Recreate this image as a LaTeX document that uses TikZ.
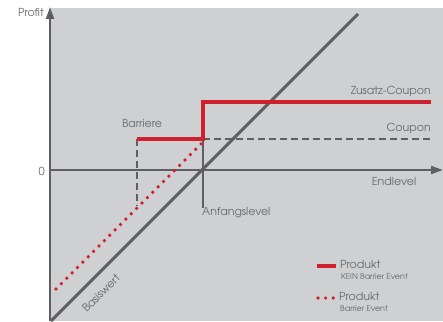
\documentclass[tikz,border=0pt]{standalone}
\usepackage{fontspec}
\setmainfont{texgyreadventor-regular.otf}
\usetikzlibrary{arrows.meta}
\definecolor{bggray}{RGB}{207,208,210}
\definecolor{axgray}{RGB}{95,95,97}
\definecolor{txtgray}{RGB}{105,105,107}
\definecolor{prodred}{RGB}{208,32,46}
\tikzset{
  axis/.style={draw=axgray, line width=2pt, -{Triangle[length=12pt,width=8pt]}},
  lbl/.style={text=txtgray, font=\fontsize{11}{12}\selectfont, inner sep=0pt},
  smalllbl/.style={text=txtgray, font=\fontsize{8}{9}\selectfont, inner sep=0pt},
  redline/.style={draw=prodred, line width=3.2pt},
  reddots/.style={draw=prodred, line width=3.6pt, line cap=round, dash pattern=on 0pt off 7.6pt},
  graydash/.style={draw=axgray, line width=2pt, dash pattern=on 7pt off 4pt},
  basis/.style={draw=axgray, line width=3pt},
  tickline/.style={draw=axgray, line width=2pt}
}
\begin{document}
\begin{tikzpicture}[x=1pt,y=-1pt]
\useasboundingbox (0,0) rectangle (443,321);
\fill[bggray] (50,8) rectangle (443,321);
% coordinates
\coordinate (ybot) at (50,321);
\coordinate (ytop) at (50,7);
\coordinate (xl) at (50,170);
\coordinate (xr) at (443,170);
\coordinate (bB) at (51,321);
\coordinate (bT) at (358,14);
\coordinate (r1) at (137,139);
\coordinate (r2) at (203,139);
\coordinate (r3) at (203,102);
\coordinate (r4) at (431,102);
\coordinate (c2) at (431,139);
\coordinate (bd) at (137,206);
\coordinate (tk) at (203,208);
\coordinate (d1) at (56,289);
\coordinate (d2) at (203,142);
\coordinate (l1a) at (317,266);
\coordinate (l1b) at (336,266);
\coordinate (l2a) at (318,298);
\coordinate (l2b) at (334,298);
% grid-ish lines
\draw[graydash] (r2) -- (c2);
\draw[graydash] (r1) -- (bd);
\draw[tickline] (r2) -- (tk);
\draw[axis] (xl) -- (xr);
\draw[axis] (ybot) -- (ytop);
\draw[basis] (bB) -- (bT);
\draw[reddots] (d1) -- (d2);
\draw[redline] (r1) -- (r2) -- (r3) -- (r4);
% labels
\node[lbl, anchor=east] (profit) at (44,13) {Profit};
\node[lbl, anchor=east] (zero) at (45,171) {0};
\node[lbl] (endl) at (394,182) {Endlevel};
\node[lbl, anchor=west] (anf) at (202,213) {Anfangslevel};
\node[lbl] (barr) at (142,124) {Barriere};
\node[lbl, anchor=east] (zus) at (431,91) {Zusatz-Coupon};
\node[lbl, anchor=east] (coup) at (431,128) {Coupon};
\node[lbl, rotate=45] (basw) at (101,293) {Basiswert};
% legend
\draw[redline] (l1a) -- (l1b);
\node[lbl, anchor=west] (p1) at (340,265) {Produkt};
\node[smalllbl, anchor=west] (p1s) at (341,277) {KEIN Barrier Event};
\draw[reddots] (l2a) -- (l2b);
\node[lbl, anchor=west] (p2) at (339,297) {Produkt};
\node[smalllbl, anchor=west] (p2s) at (340,309) {Barrier Event};
\end{tikzpicture}
\end{document}
